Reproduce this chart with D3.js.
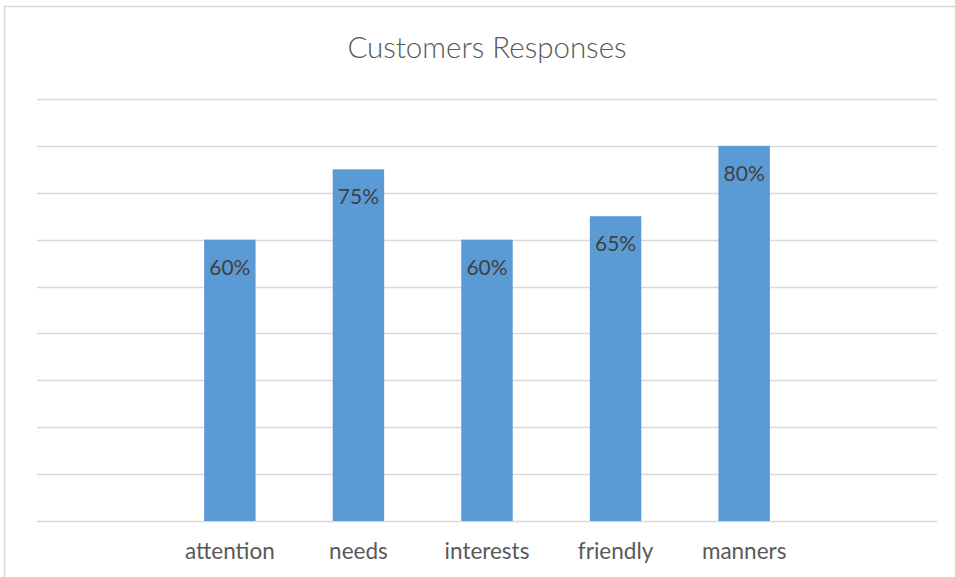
<!DOCTYPE html>
<html>
<head>
<meta charset="utf-8">
<script src="https://cdn.jsdelivr.net/npm/d3@7"></script>
<style>
  html, body { margin: 0; padding: 0; background: #fff; }
  svg { display: block; }
  text { font-family: Lato, "Open Sans", sans-serif; }
</style>
</head>
<body>
<svg id="chart" width="955" height="577"></svg>
<script>
const title = "Customers Responses";
const categories = ["attention", "needs", "interests", "friendly", "manners"];
const responses = [0.60, 0.75, 0.60, 0.65, 0.80];
const gridTicks = [0, 0.1, 0.2, 0.3, 0.4, 0.5, 0.6, 0.7, 0.8, 0.9];

const svg = d3.select("#chart");
const W = 955, H = 577;
const plot = { left: 37, right: 937, top: 99, bottom: 521 };

// chart frame
svg.append("rect")
  .attr("x", 4.5).attr("y", 6.5)
  .attr("width", W + 20).attr("height", H + 20)
  .attr("fill", "#fff").attr("stroke", "#d9d9d9").attr("stroke-width", 1.5);

const x = d3.scaleBand()
  .domain(categories)
  .range([plot.left, plot.right])
  .paddingInner(0.6)
  .paddingOuter(1.3);

const y = d3.scaleLinear()
  .domain([0, 0.9])
  .range([plot.bottom, plot.top]);

// horizontal gridlines
svg.append("g")
  .selectAll("line")
  .data(gridTicks)
  .join("line")
  .attr("x1", plot.left).attr("x2", plot.right)
  .attr("y1", d => Math.round(y(d)) + 0.5)
  .attr("y2", d => Math.round(y(d)) + 0.5)
  .attr("stroke", "#d9d9d9").attr("stroke-width", 1.5);

// bars
svg.append("g")
  .selectAll("rect")
  .data(responses)
  .join("rect")
  .attr("x", (d, i) => x(categories[i]))
  .attr("y", d => y(d))
  .attr("width", x.bandwidth())
  .attr("height", d => y(0) - y(d))
  .attr("fill", "#5b9bd5");

// value labels inside the bar ends
svg.append("g")
  .selectAll("text")
  .data(responses)
  .join("text")
  .attr("x", (d, i) => x(categories[i]) + x.bandwidth() / 2)
  .attr("y", d => y(d) + 35)
  .attr("text-anchor", "middle")
  .attr("font-size", 21)
  .attr("fill", "#404040")
  .text(d => d3.format(".0%")(d));

// category axis
const xAxis = svg.append("g")
  .attr("transform", `translate(0,${plot.bottom})`)
  .call(d3.axisBottom(x).tickSize(0).tickPadding(0));
xAxis.select(".domain").remove();
xAxis.selectAll("text")
  .attr("y", 38)
  .attr("dy", 0)
  .attr("font-size", 22.5)
  .attr("font-family", "Lato, sans-serif")
  .attr("fill", "#595959");

// title
svg.append("text")
  .attr("x", 487).attr("y", 58)
  .attr("text-anchor", "middle")
  .attr("font-size", 29.5)
  .attr("font-weight", 300)
  .attr("fill", "#595959")
  .text(title);
</script>
</body>
</html>
